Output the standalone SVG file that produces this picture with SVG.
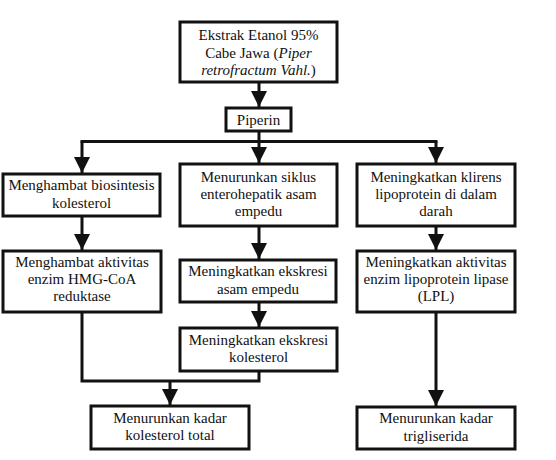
<svg xmlns="http://www.w3.org/2000/svg" width="556" height="460" viewBox="0 0 556 460">
<defs>
<style>
.box{fill:#fff;stroke:#111;stroke-width:3}
.t{font-family:"Liberation Serif","Times New Roman",serif;font-size:15px;fill:#111;text-anchor:middle}
.c{fill:none;stroke:#111;stroke-width:3}
</style>
<marker id="ah" markerUnits="userSpaceOnUse" markerWidth="16" markerHeight="16" refX="16" refY="8" orient="auto" viewBox="0 0 16 16">
<path d="M0,0 L16,8 L0,16 z" fill="#111"/>
</marker>
</defs>
<rect width="556" height="460" fill="#fff"/>
<g id="connectors">
<line class="c" x1="259" y1="82" x2="259" y2="107" marker-end="url(#ah)"/>
<polyline class="c" points="259,131 259,141.5"/>
<line class="c" x1="80.5" y1="141.5" x2="437.5" y2="141.5"/>
<line class="c" x1="82" y1="141.5" x2="82" y2="173" marker-end="url(#ah)"/>
<line class="c" x1="259" y1="141.5" x2="259" y2="163" marker-end="url(#ah)"/>
<line class="c" x1="436" y1="141.5" x2="436" y2="163" marker-end="url(#ah)"/>
<line class="c" x1="82" y1="216" x2="82" y2="250" marker-end="url(#ah)"/>
<line class="c" x1="259" y1="226" x2="259" y2="259" marker-end="url(#ah)"/>
<line class="c" x1="259" y1="302" x2="259" y2="327" marker-end="url(#ah)"/>
<line class="c" x1="436" y1="226" x2="436" y2="250" marker-end="url(#ah)"/>
<line class="c" x1="436" y1="312" x2="436" y2="406" marker-end="url(#ah)"/>
<polyline class="c" points="82,312 82,381 259,381 259,371"/>
<line class="c" x1="170" y1="381" x2="170" y2="405" marker-end="url(#ah)"/>
</g>
<g id="n-ekstrak">
<rect class="box" x="180" y="22" width="157" height="60"/>
<text class="t" x="258.5" y="40">Ekstrak Etanol 95%</text>
<text class="t" x="258.5" y="57.5">Cabe Jawa (<tspan font-style="italic">Piper</tspan></text>
<text class="t" x="258.5" y="75"><tspan font-style="italic">retrofractum Vahl.</tspan>)</text>
</g>
<g id="n-piperin">
<rect class="box" x="226" y="108" width="65" height="23"/>
<text class="t" x="258.5" y="124.5">Piperin</text>
</g>
<g id="n-biosintesis">
<rect class="box" x="3" y="174" width="157" height="42"/>
<text class="t" x="81.5" y="190">Menghambat biosintesis</text>
<text class="t" x="81.5" y="207.5">kolesterol</text>
</g>
<g id="n-siklus">
<rect class="box" x="180" y="164" width="157" height="62"/>
<text class="t" x="258.5" y="181.5">Menurunkan siklus</text>
<text class="t" x="258.5" y="198.5">enterohepatik asam</text>
<text class="t" x="258.5" y="215.5">empedu</text>
</g>
<g id="n-klirens">
<rect class="box" x="357" y="164" width="158" height="62"/>
<text class="t" x="436" y="181.5">Meningkatkan klirens</text>
<text class="t" x="436" y="198.5">lipoprotein di dalam</text>
<text class="t" x="436" y="215.5">darah</text>
</g>
<g id="n-hmgcoa">
<rect class="box" x="3" y="251" width="158" height="61"/>
<text class="t" x="82" y="267">Menghambat aktivitas</text>
<text class="t" x="82" y="284">enzim HMG-CoA</text>
<text class="t" x="82" y="301">reduktase</text>
</g>
<g id="n-ekskresi-asam">
<rect class="box" x="180" y="260" width="156" height="42"/>
<text class="t" x="258" y="276">Meningkatkan ekskresi</text>
<text class="t" x="258" y="293.5">asam empedu</text>
</g>
<g id="n-ekskresi-kol">
<rect class="box" x="180" y="328" width="157" height="43"/>
<text class="t" x="258.5" y="344.5">Meningkatkan ekskresi</text>
<text class="t" x="258.5" y="362">kolesterol</text>
</g>
<g id="n-lpl">
<rect class="box" x="357" y="251" width="158" height="61"/>
<text class="t" x="436" y="267">Meningkatkan aktivitas</text>
<text class="t" x="436" y="284">enzim lipoprotein lipase</text>
<text class="t" x="436" y="301">(LPL)</text>
</g>
<g id="n-kolesterol-total">
<rect class="box" x="91" y="406" width="158" height="43"/>
<text class="t" x="170" y="422.5">Menurunkan kadar</text>
<text class="t" x="170" y="440">kolesterol total</text>
</g>
<g id="n-trigliserida">
<rect class="box" x="357" y="407" width="158" height="42"/>
<text class="t" x="436" y="423">Menurunkan kadar</text>
<text class="t" x="436" y="440.5">trigliserida</text>
</g>
</svg>
